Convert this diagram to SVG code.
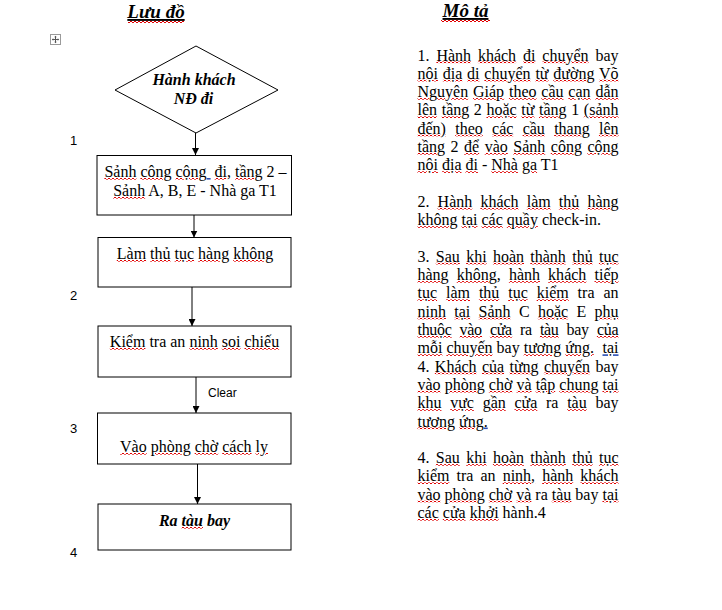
<svg xmlns="http://www.w3.org/2000/svg" width="722" height="610" viewBox="0 0 722 610">
<style>
.t{font-family:"Liberation Serif","Times New Roman",serif;font-size:16px;fill:#000}
.bi{font-weight:bold;font-style:italic}
.h{font-family:"Liberation Serif","Times New Roman",serif;font-size:19px;font-weight:bold;font-style:italic;text-decoration:underline;fill:#000}
.s{font-family:"Liberation Sans",Arial,sans-serif;font-size:12px;fill:#000}
.n{font-family:"Liberation Sans",Arial,sans-serif;font-size:13px;fill:#000}
.w{fill:url(#wv);text-decoration:underline;text-decoration-thickness:2px}
.b{fill:#2b4fb5;text-decoration:underline}
.k{fill:#000}
.box{fill:#fff;stroke:#000;stroke-width:1}
.con{stroke:#000;stroke-width:1;fill:none;marker-end:url(#ah)}
</style>
<defs>
<marker id="ah" markerWidth="7" markerHeight="7" refX="7" refY="3.5" orient="auto" markerUnits="userSpaceOnUse">
<path d="M0,0 L7,3.5 L0,7 z" fill="#000"/>
</marker>
<pattern id="wv" patternUnits="userSpaceOnUse" width="4" height="2">
<rect x="0" y="0" width="2" height="1" fill="#e00000"/>
<rect x="2" y="1" width="2" height="1" fill="#e00000"/>
</pattern>
</defs>
<rect width="722" height="610" fill="#fff"/>

<!-- headings -->
<g id="headings">
<text class="h" x="156" y="18" text-anchor="middle">Lưu đồ</text>
<text class="h" x="465.5" y="17" text-anchor="middle">Mô tả</text>
<rect x="128" y="21" width="56" height="2" fill="url(#wv)"/>
<rect x="441" y="20" width="49" height="2" fill="url(#wv)"/>
</g>

<!-- move handle -->
<g id="handle">
<rect x="50.5" y="34.5" width="10" height="10" fill="#fff" stroke="#9a9a9a"/>
<path d="M55.5,36.5 V42.5 M52.5,39.5 H58.5" stroke="#555" stroke-width="1"/>
<path d="M55.5,35.8 L54.2,37.3 H56.8 z M55.5,43.2 L54.2,41.7 H56.8 z M51.8,39.5 L53.3,38.2 V40.8 z M59.2,39.5 L57.7,38.2 V40.8 z" fill="#555"/>
</g>

<!-- step numbers -->
<g id="numbers">
<text class="n" x="70" y="145">1</text>
<text class="n" x="70" y="300">2</text>
<text class="n" x="70" y="433">3</text>
<text class="n" x="70" y="557">4</text>
</g>

<!-- connectors -->
<g id="connectors">
<path class="con" d="M195.5,133 V155"/>
<path class="con" d="M194,215 V237.5"/>
<path class="con" d="M192,287 V326"/>
<path class="con" d="M196,377 V413"/>
<path class="con" d="M197.5,464 V504"/>
<text class="s" x="208" y="397">Clear</text>
</g>

<!-- nodes -->
<g id="start">
<polygon class="box" points="196,46 278,90 196,133 115,90"/>
<text class="t bi" x="194" y="85" text-anchor="middle">Hành khách</text>
<text class="t bi" x="193.5" y="104" text-anchor="middle">NĐ đi</text>
</g>

<g id="step1">
<rect class="box" x="97" y="155.5" width="194.5" height="59.5"/>
<text class="t" x="195.5" y="177" text-anchor="middle" xml:space="preserve"><tspan class="w"><tspan class="k">Sảnh</tspan></tspan> <tspan class="w"><tspan class="k">công</tspan></tspan> <tspan class="w"><tspan class="k">cộng</tspan></tspan><tspan class="b"> </tspan> <tspan class="w"><tspan class="k">đi,</tspan></tspan> <tspan class="w"><tspan class="k">tầng</tspan></tspan> 2 –</text>
<text class="t" x="195" y="196" text-anchor="middle"><tspan class="w"><tspan class="k">Sảnh</tspan></tspan> A, B, E - Nhà ga T1</text>
</g>

<g id="step2">
<rect class="box" x="98" y="237.5" width="193" height="49.5"/>
<text class="t" x="195" y="259" text-anchor="middle"><tspan class="w"><tspan class="k">Làm</tspan></tspan> <tspan class="w"><tspan class="k">thủ</tspan></tspan> <tspan class="w"><tspan class="k">tục</tspan></tspan> <tspan class="w"><tspan class="k">hàng</tspan></tspan> <tspan class="w"><tspan class="k">không</tspan></tspan></text>
</g>

<g id="step3">
<rect class="box" x="98" y="326" width="193" height="51"/>
<text class="t" x="194.5" y="347" text-anchor="middle"><tspan class="w"><tspan class="k">Kiểm</tspan></tspan> tra an <tspan class="w"><tspan class="k">ninh</tspan></tspan> <tspan class="w"><tspan class="k">soi</tspan></tspan> <tspan class="w"><tspan class="k">chiếu</tspan></tspan></text>
</g>

<g id="step4">
<rect class="box" x="97.5" y="413" width="193.5" height="51"/>
<text class="t" x="194" y="452" text-anchor="middle"><tspan class="w"><tspan class="k">Vào</tspan></tspan> <tspan class="w"><tspan class="k">phòng</tspan></tspan> <tspan class="w"><tspan class="k">chờ</tspan></tspan> <tspan class="w"><tspan class="k">cách</tspan></tspan> <tspan class="w"><tspan class="k">ly</tspan></tspan></text>
</g>

<g id="end">
<rect class="box" x="98" y="504" width="193" height="46"/>
<text class="t bi" x="194.5" y="526" text-anchor="middle">Ra <tspan class="w"><tspan class="k">tàu</tspan></tspan> bay</text>
</g>

<!-- description -->
<g id="description">
<text class="t" x="417.5" y="60.5" textLength="201" style="word-spacing:2.9px">1. <tspan class="w"><tspan class="k">Hành</tspan></tspan> <tspan class="w"><tspan class="k">khách</tspan></tspan> <tspan class="w"><tspan class="k">đi</tspan></tspan> <tspan class="w"><tspan class="k">chuyển</tspan></tspan> bay</text>
<text class="t" x="417.5" y="78.8" textLength="201" style="word-spacing:0.8px"><tspan class="w"><tspan class="k">nội</tspan></tspan> <tspan class="w"><tspan class="k">địa</tspan></tspan> <tspan class="w"><tspan class="k">di</tspan></tspan> <tspan class="w"><tspan class="k">chuyển</tspan></tspan> <tspan class="w"><tspan class="k">từ</tspan></tspan> <tspan class="w"><tspan class="k">đường</tspan></tspan> <tspan class="w"><tspan class="k">Võ</tspan></tspan></text>
<text class="t" x="417.5" y="97.1" textLength="201" style="word-spacing:0.8px"><tspan class="w"><tspan class="k">Nguyên</tspan></tspan> <tspan class="w"><tspan class="k">Giáp</tspan></tspan> <tspan class="w"><tspan class="k">theo</tspan></tspan> <tspan class="w"><tspan class="k">cầu</tspan></tspan> <tspan class="w"><tspan class="k">cạn</tspan></tspan> <tspan class="w"><tspan class="k">dẫn</tspan></tspan></text>
<text class="t" x="417.5" y="115.4" textLength="201" style="word-spacing:0.6px"><tspan class="w"><tspan class="k">lên</tspan></tspan> <tspan class="w"><tspan class="k">tầng</tspan></tspan> 2 <tspan class="w"><tspan class="k">hoặc</tspan></tspan> <tspan class="w"><tspan class="k">từ</tspan></tspan> <tspan class="w"><tspan class="k">tầng</tspan></tspan> 1 <tspan class="w"><tspan class="k">(sảnh</tspan></tspan></text>
<text class="t" x="417.5" y="133.7" textLength="201" style="word-spacing:5.3px"><tspan class="w"><tspan class="k">đến)</tspan></tspan> <tspan class="w"><tspan class="k">theo</tspan></tspan> <tspan class="w"><tspan class="k">các</tspan></tspan> <tspan class="w"><tspan class="k">cầu</tspan></tspan> <tspan class="w"><tspan class="k">thang</tspan></tspan> <tspan class="w"><tspan class="k">lên</tspan></tspan></text>
<text class="t" x="417.5" y="152" textLength="201" style="word-spacing:1.5px"><tspan class="w"><tspan class="k">tầng</tspan></tspan> 2 <tspan class="w"><tspan class="k">để</tspan></tspan> <tspan class="w"><tspan class="k">vào</tspan></tspan> <tspan class="w"><tspan class="k">Sảnh</tspan></tspan> <tspan class="w"><tspan class="k">công</tspan></tspan> <tspan class="w"><tspan class="k">cộng</tspan></tspan></text>
<text class="t" x="417.5" y="170.3"><tspan class="w"><tspan class="k">nội</tspan></tspan> <tspan class="w"><tspan class="k">địa</tspan></tspan> <tspan class="w"><tspan class="k">đi</tspan></tspan> - <tspan class="w"><tspan class="k">Nhà</tspan></tspan> <tspan class="w"><tspan class="k">ga</tspan></tspan> T1</text>

<text class="t" x="417.5" y="206.9" textLength="201" style="word-spacing:4.1px">2. <tspan class="w"><tspan class="k">Hành</tspan></tspan> <tspan class="w"><tspan class="k">khách</tspan></tspan> <tspan class="w"><tspan class="k">làm</tspan></tspan> <tspan class="w"><tspan class="k">thủ</tspan></tspan> <tspan class="w"><tspan class="k">hàng</tspan></tspan></text>
<text class="t" x="417.5" y="225.2"><tspan class="w"><tspan class="k">không</tspan></tspan> <tspan class="w"><tspan class="k">tại</tspan></tspan> <tspan class="w"><tspan class="k">các</tspan></tspan> <tspan class="w"><tspan class="k">quầy</tspan></tspan> check-in.</text>

<text class="t" x="417.5" y="261.8" textLength="201" style="word-spacing:2.3px">3. <tspan class="w"><tspan class="k">Sau</tspan></tspan> <tspan class="w"><tspan class="k">khi</tspan></tspan> <tspan class="w"><tspan class="k">hoàn</tspan></tspan> <tspan class="w"><tspan class="k">thành</tspan></tspan> <tspan class="w"><tspan class="k">thủ</tspan></tspan> <tspan class="w"><tspan class="k">tục</tspan></tspan></text>
<text class="t" x="417.5" y="280.1" textLength="201" style="word-spacing:4.1px"><tspan class="w"><tspan class="k">hàng</tspan></tspan> <tspan class="w"><tspan class="k">không,</tspan></tspan> <tspan class="w"><tspan class="k">hành</tspan></tspan> <tspan class="w"><tspan class="k">khách</tspan></tspan> <tspan class="w"><tspan class="k">tiếp</tspan></tspan></text>
<text class="t" x="417.5" y="298.4" textLength="201" style="word-spacing:4.9px"><tspan class="w"><tspan class="k">tục</tspan></tspan> <tspan class="w"><tspan class="k">làm</tspan></tspan> <tspan class="w"><tspan class="k">thủ</tspan></tspan> <tspan class="w"><tspan class="k">tục</tspan></tspan> <tspan class="w"><tspan class="k">kiểm</tspan></tspan> tra an</text>
<text class="t" x="417.5" y="316.7" textLength="201" style="word-spacing:4.3px"><tspan class="w"><tspan class="k">ninh</tspan></tspan> <tspan class="w"><tspan class="k">tại</tspan></tspan> <tspan class="w"><tspan class="k">Sảnh</tspan></tspan> C <tspan class="w"><tspan class="k">hoặc</tspan></tspan> E <tspan class="w"><tspan class="k">phụ</tspan></tspan></text>
<text class="t" x="417.5" y="335" textLength="201" style="word-spacing:4.4px"><tspan class="w"><tspan class="k">thuộc</tspan></tspan> <tspan class="w"><tspan class="k">vào</tspan></tspan> <tspan class="w"><tspan class="k">cửa</tspan></tspan> ra <tspan class="w"><tspan class="k">tàu</tspan></tspan> bay <tspan class="w"><tspan class="k">của</tspan></tspan></text>
<text class="t" x="417.5" y="353.3"><tspan class="w"><tspan class="k">mỗi</tspan></tspan> <tspan class="w"><tspan class="k">chuyến</tspan></tspan> bay <tspan class="w"><tspan class="k">tương</tspan></tspan> <tspan class="w"><tspan class="k">ứng.</tspan></tspan></text>
<text class="t" x="618.5" y="353.3" text-anchor="end"><tspan class="b"><tspan class="k">tại</tspan></tspan></text>
<text class="t" x="417.5" y="371.6" textLength="201" style="word-spacing:1.4px">4. <tspan class="w"><tspan class="k">Khách</tspan></tspan> <tspan class="w"><tspan class="k">của</tspan></tspan> <tspan class="w"><tspan class="k">từng</tspan></tspan> <tspan class="w"><tspan class="k">chuyến</tspan></tspan> bay</text>
<text class="t" x="417.5" y="389.9" textLength="201" style="word-spacing:0.1px"><tspan class="w"><tspan class="k">vào</tspan></tspan> <tspan class="w"><tspan class="k">phòng</tspan></tspan> <tspan class="w"><tspan class="k">chờ</tspan></tspan> <tspan class="w"><tspan class="k">và</tspan></tspan> <tspan class="w"><tspan class="k">tập</tspan></tspan> <tspan class="w"><tspan class="k">chung</tspan></tspan> <tspan class="w"><tspan class="k">tại</tspan></tspan></text>
<text class="t" x="417.5" y="408.2" textLength="201" style="word-spacing:4.7px"><tspan class="w"><tspan class="k">khu</tspan></tspan> <tspan class="w"><tspan class="k">vực</tspan></tspan> <tspan class="w"><tspan class="k">gần</tspan></tspan> <tspan class="w"><tspan class="k">cửa</tspan></tspan> ra <tspan class="w"><tspan class="k">tàu</tspan></tspan> bay</text>
<text class="t" x="417.5" y="426.5"><tspan class="w"><tspan class="k">tương</tspan></tspan> <tspan class="w"><tspan class="k">ứng</tspan></tspan><tspan class="b"><tspan class="k">.</tspan></tspan></text>

<text class="t" x="417.5" y="463.1" textLength="201" style="word-spacing:2.3px">4. <tspan class="w"><tspan class="k">Sau</tspan></tspan> <tspan class="w"><tspan class="k">khi</tspan></tspan> <tspan class="w"><tspan class="k">hoàn</tspan></tspan> <tspan class="w"><tspan class="k">thành</tspan></tspan> <tspan class="w"><tspan class="k">thủ</tspan></tspan> <tspan class="w"><tspan class="k">tục</tspan></tspan></text>
<text class="t" x="417.5" y="481.4" textLength="201" style="word-spacing:3.1px"><tspan class="w"><tspan class="k">kiểm</tspan></tspan> tra an <tspan class="w"><tspan class="k">ninh,</tspan></tspan> <tspan class="w"><tspan class="k">hành</tspan></tspan> <tspan class="w"><tspan class="k">khách</tspan></tspan></text>
<text class="t" x="417.5" y="499.7" textLength="201" style="word-spacing:0px"><tspan class="w"><tspan class="k">vào</tspan></tspan> <tspan class="w"><tspan class="k">phòng</tspan></tspan> <tspan class="w"><tspan class="k">chờ</tspan></tspan> <tspan class="w"><tspan class="k">và</tspan></tspan> ra <tspan class="w"><tspan class="k">tàu</tspan></tspan> bay <tspan class="w"><tspan class="k">tại</tspan></tspan></text>
<text class="t" x="417.5" y="518"><tspan class="w"><tspan class="k">các</tspan></tspan> <tspan class="w"><tspan class="k">cửa</tspan></tspan> <tspan class="w"><tspan class="k">khởi</tspan></tspan> hành.4</text>
</g>
</svg>
